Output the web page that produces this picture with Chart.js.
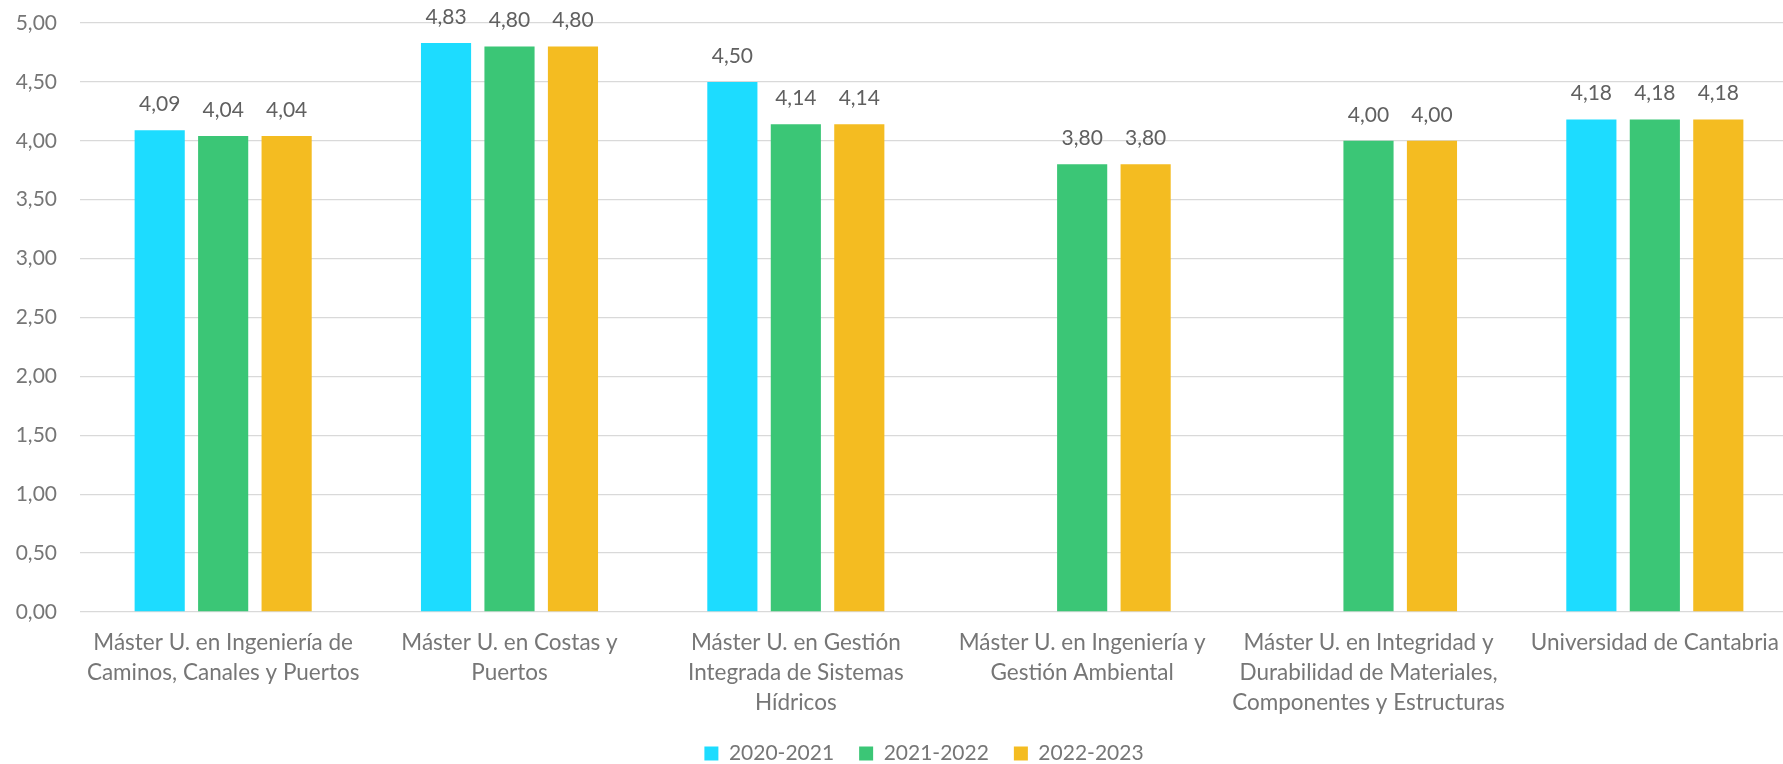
<!DOCTYPE html>
<html>
<head>
<meta charset="utf-8">
<script src="https://cdn.jsdelivr.net/npm/chart.js@4"></script>
<style>
  html, body { margin: 0; padding: 0; overflow: hidden; background: #fff; }
  #wrap { position: relative; width: 1800px; height: 764px; }
</style>
</head>
<body>
<div id="wrap"><canvas id="chart"></canvas></div>
<script>
// Categories (x axis), one label line per array entry
const categories = [
    ['Máster U. en Ingeniería de', 'Caminos, Canales y Puertos'],
    ['Máster U. en Costas y', 'Puertos'],
    ['Máster U. en Gestión', 'Integrada de Sistemas', 'Hídricos'],
    ['Máster U. en Ingeniería y', 'Gestión Ambiental'],
    ['Máster U. en Integridad y', 'Durabilidad de Materiales,', 'Componentes y Estructuras'],
    ['Universidad de Cantabria']
];

const seasons = ['2020-2021', '2021-2022', '2022-2023'];

// Series values (null = no bar)
const values2020 = [4.09, 4.83, 4.50, null, null, 4.18];
const values2021 = [4.04, 4.80, 4.14, 3.80, 4.00, 4.18];
const values2022 = [4.04, 4.80, 4.14, 3.80, 4.00, 4.18];

// Y axis
const yMin = 0;
const yMax = 5;
const yStep = 0.5;

const colors = ['#1DDCFF', '#3BC676', '#F4BC21'];
const textColor = '#767676';
const valueColor = '#606060';

// Spanish number format: 4,09
const fmt = v => v.toFixed(2).replace('.', ',');

// Draws the value above each bar
const valueLabels = {
    id: 'valueLabels',
    afterDatasetsDraw(chart) {
        const ctx = chart.ctx;
        ctx.save();
        ctx.font = '21px Lato';
        ctx.fillStyle = valueColor;
        ctx.textAlign = 'center';
        ctx.textBaseline = 'middle';
        chart.data.datasets.forEach((ds, i) => {
            const meta = chart.getDatasetMeta(i);
            meta.data.forEach((bar, j) => {
                const v = ds.data[j];
                if (v === null || v === undefined) return;
                ctx.fillText(fmt(v), bar.x, bar.y - 26);
            });
        });
        ctx.restore();
    }
};

// Legend in the original sits a bit right of the canvas centre
const legendShift = {
    id: 'legendShift',
    afterLayout(chart) {
        if (!chart.legend) return;
        chart.legend.left += 17;
        chart.legend.right += 17;
    }
};

Chart.defaults.font.family = 'Lato';
Chart.defaults.font.size = 21;
Chart.defaults.color = textColor;

const seriesValues = [values2020, values2021, values2022];

new Chart(document.getElementById('chart'), {
    type: 'bar',
    data: {
        labels: categories,
        datasets: seasons.map((name, i) => ({
            label: name,
            data: seriesValues[i],
            backgroundColor: colors[i],
            categoryPercentage: 0.665,
            barPercentage: 0.79
        }))
    },
    options: {
        responsive: true,
        maintainAspectRatio: false,
        animation: false,
        layout: {
            padding: { top: 23, left: 16, right: 2, bottom: -10 }
        },
        plugins: {
            legend: {
                position: 'bottom',
                labels: {
                    boxWidth: 14,
                    boxHeight: 14,
                    padding: 25,
                    color: textColor,
                    font: { size: 21 }
                }
            },
            tooltip: { enabled: false }
        },
        scales: {
            x: {
                grid: { display: false, drawTicks: false },
                border: { display: false },
                ticks: {
                    maxRotation: 0,
                    autoSkip: false,
                    padding: 16,
                    font: { size: 22.5, lineHeight: 1.333 }
                },
                afterFit(scale) {
                    scale.paddingLeft = 0;
                    scale.paddingRight = 0;
                    scale.height = 106;
                }
            },
            y: {
                min: yMin,
                max: yMax,
                grid: { color: '#D9D9D9', lineWidth: 1.3, drawTicks: false },
                border: { display: false },
                ticks: {
                    stepSize: yStep,
                    padding: 23,
                    callback: v => fmt(v)
                },
                afterFit(scale) {
                    scale.paddingTop = 0;
                    scale.paddingBottom = 0;
                    scale.width = 64;
                }
            }
        }
    },
    plugins: [valueLabels, legendShift]
});
</script>
</body>
</html>
